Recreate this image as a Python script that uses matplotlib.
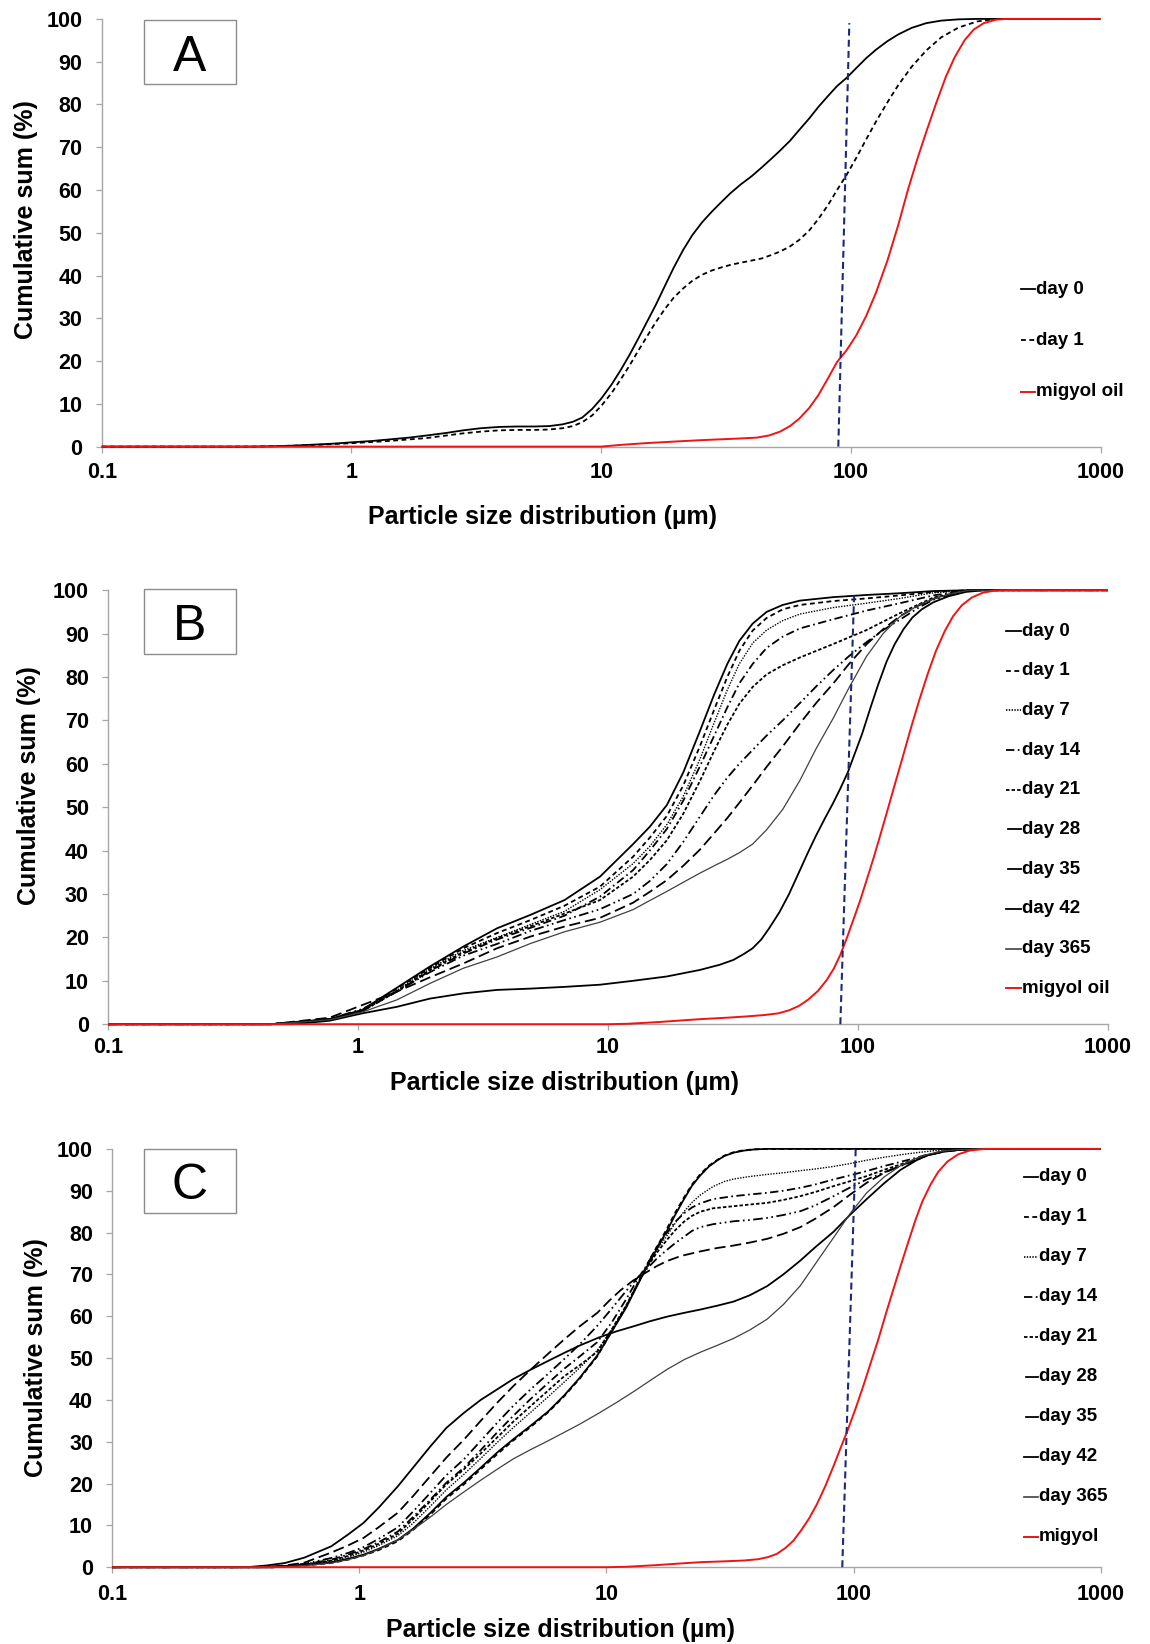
import matplotlib
matplotlib.use("Agg")
import matplotlib.pyplot as plt
from matplotlib.lines import Line2D
from matplotlib.patches import Rectangle

plt.rcParams['font.family'] = ['Liberation Sans', 'DejaVu Sans']
plt.rcParams['lines.scale_dashes'] = False

# ---------------- data ----------------
XTICKS = [0.1, 1, 10, 100, 1000]
XTICK_LABELS = ['0.1', '1', '10', '100', '1000']
YTICKS = [0, 10, 20, 30, 40, 50, 60, 70, 80, 90, 100]

# Panel A
A_DAY0_X = [0.1, 0.4, 0.5, 0.6, 0.7, 0.85, 1.0, 1.2, 1.4, 1.7, 2.0, 2.4, 2.8, 3.3, 3.9, 4.6, 5.4, 6.2, 7.0, 7.7, 8.4, 9.2, 10, 11, 12, 13, 14, 15.2, 16.5, 18, 19.5, 21.3, 23.2, 25.4, 27.8, 30.3, 33, 36.2, 40, 44, 48, 52, 57, 62, 68, 74, 81, 88, 96, 105, 115, 126, 140, 155, 175, 200, 230, 270, 320, 1000]
A_DAY0_Y = [0, 0, 0.1, 0.25, 0.45, 0.7, 1.0, 1.3, 1.65, 2.1, 2.6, 3.2, 3.8, 4.3, 4.6, 4.7, 4.7, 4.8, 5.2, 5.8, 6.8, 8.8, 11.2, 14.5, 18, 21.5, 25, 29, 33, 37.6, 41.8, 46, 49.5, 52.5, 55, 57.2, 59.3, 61.3, 63.2, 65.3, 67.3, 69.2, 71.5, 74, 76.7, 79.4, 82, 84.3, 86.2, 88.5, 90.8, 92.8, 94.8, 96.4, 97.9, 99, 99.6, 99.9, 100, 100]
A_DAY1_X = [0.1, 0.4, 0.5, 0.7, 1.0, 1.4, 2.0, 2.4, 2.8, 3.3, 3.9, 4.6, 5.4, 6.2, 7.0, 7.7, 8.4, 9.2, 10, 11, 12, 13, 14, 15.2, 16.5, 18, 19.5, 21.3, 23.2, 25.4, 27.8, 30.3, 33, 36.2, 40, 44, 48, 52, 57, 62, 68, 74, 81, 88, 96, 105, 115, 126, 140, 155, 175, 200, 230, 270, 320, 380, 1000]
A_DAY1_Y = [0, 0, 0.1, 0.35, 0.8, 1.3, 2.0, 2.6, 3.1, 3.5, 3.8, 3.9, 3.9, 4.0, 4.3, 4.8, 5.7, 7.3, 9.5, 12.5, 15.8, 19, 22.2, 25.6, 29, 32.2, 34.8, 37, 38.8, 40.2, 41.2, 41.9, 42.5, 43, 43.5, 44, 44.8, 45.6, 46.8, 48.3, 50.5, 53.2, 56.5, 60, 63.5, 67.5, 71.8, 76, 80.5, 84.6, 88.8, 92.6, 95.7, 98, 99.4, 100, 100]
A_OIL_X = [0.1, 10, 12, 15, 20, 25, 30, 36, 42, 47, 52, 57, 62, 68, 74, 81, 88, 96, 105, 115, 126, 140, 155, 170, 185, 200, 220, 240, 260, 285, 310, 340, 380, 420, 1000]
A_OIL_Y = [0, 0, 0.4, 0.8, 1.2, 1.5, 1.7, 1.9, 2.1, 2.6, 3.5, 4.8, 6.5, 9, 12, 16, 19.8, 22.5, 26, 30.5, 36, 43.5, 52, 60.5, 67.5, 73.5, 80.5, 86.5, 91, 95, 97.5, 99, 99.8, 100, 100]
A_REF_X = [89, 98.5]
A_REF_Y = [0, 99]

# Panel B
B_X = [0.1, 0.45, 0.77, 1.04, 1.43, 1.94, 2.64, 3.6, 4.9, 6.7, 9.29, 12.6, 14.7, 17.2, 20, 23.3, 26.6, 30, 33.5, 37.9, 43.1, 50, 58.6, 79.6, 108, 147, 200, 280, 1000]
B_DAY0 = [0, 0, 1.2, 3.3, 8.4, 13.3, 17.9, 22.1, 25.2, 28.6, 34, 41.5, 45.5, 50.5, 58, 67.5, 76, 83, 88.3, 92.3, 95, 96.6, 97.6, 98.4, 98.9, 99.3, 99.8, 100, 100]
B_DAY1 = [0, 0, 1, 3.2, 8.2, 13, 17.5, 21, 24, 27.3, 31.7, 38.6, 43, 48, 55, 64, 72.5, 80, 86, 90.7, 93.6, 95.6, 96.6, 97.5, 98.1, 98.8, 99.6, 100, 100]
B_DAY7 = [0, 0, 1, 3, 7.8, 12.8, 17, 20, 23, 26, 31, 37, 41, 46, 52.5, 61, 69.5, 77, 83, 87.8, 90.8, 93, 94.5, 96, 97, 98.1, 99.4, 100, 100]
B_DAY14 = [0, 0, 1, 3, 7.5, 12.3, 16.3, 19.5, 22.2, 25, 29.4, 35.5, 40, 45, 51.5, 59.4, 66.5, 73, 78.5, 83, 86.7, 89.3, 91.2, 93.3, 95.3, 97, 98.8, 100, 100]
B_DAY21 = [0, 0, 1, 3, 7.6, 12.5, 16.6, 19.8, 22.6, 25.5, 28.6, 34, 37.8, 42.4, 48.5, 56, 63, 69, 73.8, 77.7, 80.6, 82.7, 84.5, 87.6, 90.8, 94.7, 98.3, 100, 100]
B_X2 = [0.1, 0.45, 0.77, 1.04, 1.43, 1.94, 2.64, 3.6, 4.9, 6.7, 9.29, 12.6, 14.7, 17.2, 20, 23.3, 26.6, 30, 33.5, 37.9, 43.1, 50, 58.6, 68, 79.6, 92, 108, 126, 147, 175, 200, 240, 280, 1000]
B_DAY28 = [0, 0, 1.2, 3.5, 7.5, 12, 15.8, 18.5, 21.5, 24, 26.5, 30, 33, 36.9, 42, 47.8, 52.8, 56.8, 60, 63.2, 66.5, 70, 74, 77.8, 81.6, 84.8, 88, 90.8, 93.2, 96, 97.8, 99.2, 100, 100]
B_DAY35 = [0, 0, 1.5, 4.4, 7.5, 10.8, 14, 17.5, 20.2, 22.5, 24.5, 28, 30.5, 33.2, 36.5, 40.2, 44, 47.5, 51, 55, 59.3, 64, 69.3, 74, 78.5, 83, 87.5, 91, 94, 96.5, 98, 99.3, 100, 100]
B_DAY365 = [0, 0, 1, 2.8, 5.6, 9.4, 12.9, 15.5, 18.6, 21.3, 23.5, 26.4, 28.5, 30.6, 32.7, 34.8, 36.5, 38, 39.5, 41.5, 44.8, 49.5, 56.2, 63.5, 70.5, 77.5, 84.7, 90, 93.9, 96.6, 98, 99.3, 100, 100]
B_DAY42_X = [0.1, 0.55, 0.77, 1.04, 1.43, 1.94, 2.64, 3.6, 4.9, 6.7, 9.29, 12.6, 17.2, 23.3, 28, 31.7, 35, 37.9, 41, 44, 48.5, 53, 58.6, 63, 68, 74, 79.6, 85, 91, 97, 104, 112, 120, 130, 140, 152, 165, 180, 200, 230, 270, 320, 1000]
B_DAY42_Y = [0, 0, 0.8, 2.5, 4, 5.9, 7.1, 7.9, 8.2, 8.6, 9.1, 10, 11, 12.5, 13.7, 14.8, 16.2, 17.5, 19.5, 22, 25.8, 30, 35.5, 39.5, 43.5, 47.6, 51, 54.3, 58, 62.3, 67, 72.8, 78, 83.5, 87.5, 91, 93.7, 95.6, 97.2, 98.6, 99.6, 100, 100]
B_OIL_X = [0.1, 10, 12, 16, 20, 24, 30, 36, 42, 48, 53, 58, 63, 69, 75, 80, 85, 90, 96, 102, 108, 115, 122, 130, 140, 150, 162, 175, 190, 205, 222, 240, 260, 285, 315, 350, 400, 1000]
B_OIL_Y = [0, 0, 0.1, 0.5, 0.9, 1.2, 1.5, 1.8, 2.1, 2.5, 3.2, 4.2, 5.6, 7.6, 10.2, 12.8, 16, 19.7, 24.2, 28.5, 33, 38, 43, 48.5, 55, 61, 67.8, 74.3, 80.7, 86, 90.5, 94, 96.5, 98.3, 99.4, 99.9, 100, 100]
B_REF_X = [85, 96.5]
B_REF_Y = [0, 99]

# Panel C
C_X0 = [0.1, 0.45, 0.6, 0.77, 0.9, 1.04, 1.2, 1.43, 1.65, 1.94, 2.25, 2.65, 3.1, 3.61, 4.2, 4.93, 5.8, 6.73, 7.8, 9.18, 10.5, 12, 13.5, 15.1, 16.5, 17.6, 19, 20.6, 22.2, 24, 26, 28, 30, 32.7, 36, 40, 45, 1000]
C_DAY0 = [0, 0, 0.5, 1.2, 2, 3, 4.4, 6.5, 9.2, 13, 16.8, 20.2, 23.8, 27.4, 30.6, 33.8, 37.2, 41, 45.3, 50.6, 56.3, 62, 68, 73.5, 77.5, 80.5, 84.3, 88, 91.2, 93.7, 95.8, 97.2, 98.3, 99.1, 99.6, 99.9, 100, 100]
C_DAY1 = [0, 0, 0.4, 1.0, 1.8, 2.8, 4.1, 6.2, 8.9, 12.6, 16.4, 19.8, 23.4, 27, 30.3, 33.5, 37, 40.8, 45.1, 50.4, 56.4, 62.2, 68.3, 74, 78, 81, 84.8, 88.4, 91.5, 94, 96, 97.3, 98.4, 99.2, 99.7, 99.9, 100, 100]
C_X7 = [0.1, 0.45, 0.6, 0.77, 0.9, 1.04, 1.2, 1.43, 1.65, 1.94, 2.25, 2.65, 3.1, 3.61, 4.2, 4.93, 5.8, 6.73, 7.8, 9.18, 10.5, 12, 13.5, 14.5, 16, 17.6, 19, 20.6, 22.2, 24, 27, 30, 32.7, 38, 44.7, 52, 60.9, 70, 83, 97, 113, 133, 155, 180, 200, 230, 260, 1000]
C_DAY7 = [0, 0, 0.5, 1.4, 2.4, 3.6, 5.2, 7.5, 10.5, 14.6, 18.5, 22.2, 26, 29.8, 33.4, 37, 40.7, 44.2, 47.7, 51.8, 56.8, 62.5, 68, 71.5, 75.8, 79.3, 82.3, 85, 87.2, 89, 91, 92.2, 92.8, 93.4, 93.9, 94.3, 94.8, 95.2, 95.8, 96.5, 97.3, 98, 98.6, 99.1, 99.4, 99.8, 100, 100]
C_XD = [0.1, 0.45, 0.6, 0.77, 0.9, 1.04, 1.2, 1.43, 1.65, 1.94, 2.25, 2.65, 3.1, 3.61, 4.2, 4.93, 5.8, 6.73, 7.8, 9.18, 10.5, 12, 13.5, 14.5, 16, 17.6, 19, 20.6, 22.2, 24, 27, 32.7, 38, 44.7, 52, 60.9, 70, 83, 97, 113, 133, 155, 180, 200, 230, 260, 320, 1000]
C_DAY14 = [0, 0, 0.7, 1.8, 3, 4.3, 6, 8.5, 12, 16.2, 20.2, 23.8, 28, 32.2, 36.2, 40.2, 44, 47.4, 50.4, 53.8, 58.5, 64, 69.3, 72, 76.5, 80, 82.6, 84.6, 86, 87, 88, 88.7, 89.1, 89.5, 90, 90.7, 91.5, 92.7, 93.7, 94.7, 95.9, 96.9, 97.9, 98.7, 99.4, 99.7, 100, 100]
C_DAY21 = [0, 0, 0.6, 1.6, 2.7, 4, 5.6, 8, 11.5, 15.8, 19.8, 23.4, 27.2, 31, 34.8, 38.5, 42.2, 45.6, 48.3, 51.5, 56.8, 62.5, 68.3, 71.5, 75.2, 78.3, 80.6, 82.6, 84, 85, 85.8, 86.3, 86.7, 87.1, 87.8, 88.7, 89.7, 91.1, 92.3, 93.5, 95, 96.3, 97.6, 98.5, 99.3, 99.7, 100, 100]
C_DAY28 = [0, 0, 0.8, 2.2, 3.4, 4.8, 6.8, 9.5, 13.3, 17.8, 22, 25.8, 30.2, 34.5, 38.6, 42.5, 46.2, 49.7, 53.3, 57.7, 61.8, 66, 69.5, 71.2, 73.8, 75.9, 77.5, 79, 80.4, 81.3, 82, 82.7, 83, 83.5, 84.2, 85.1, 86.5, 88.7, 90.8, 92.7, 94.4, 95.9, 97.4, 98.5, 99.3, 99.7, 100, 100]
C_X35 = [0.1, 0.4, 0.5, 0.6, 0.77, 0.9, 1.04, 1.2, 1.43, 1.65, 1.94, 2.25, 2.65, 3.1, 3.61, 4.2, 4.93, 5.8, 6.73, 7.8, 9.18, 10.3, 11.4, 12.8, 14.5, 16, 17.6, 20, 24, 28, 32.7, 38, 44.7, 52, 60.9, 70, 83, 97, 113, 133, 155, 180, 200, 230, 260, 320, 1000]
C_DAY35 = [0, 0, 0.4, 1.1, 3.5, 5.2, 7, 9.6, 13, 17, 21.8, 26.2, 30.5, 35, 39.3, 43.3, 47.2, 51, 54.4, 57.6, 60.8, 63.8, 66.2, 68.5, 70.5, 72, 73.2, 74.4, 75.5, 76.3, 76.9, 77.6, 78.5, 79.7, 81.3, 83.3, 86.1, 89.1, 91.9, 94.3, 96, 97.5, 98.5, 99.3, 99.7, 100, 100]
C_X42 = [0.1, 0.35, 0.42, 0.5, 0.6, 0.77, 0.9, 1.04, 1.2, 1.43, 1.65, 1.94, 2.25, 2.65, 3.1, 3.61, 4.2, 4.93, 5.8, 6.73, 7.8, 9.3, 11, 12.9, 15, 17.6, 20.6, 24, 28, 32.7, 38, 44.7, 52, 60.9, 70, 83, 97, 113, 133, 155, 180, 200, 230, 260, 320, 1000]
C_DAY42 = [0, 0, 0.4, 1, 2.3, 5, 7.8, 10.6, 14.3, 19.3, 23.8, 28.9, 33.3, 36.9, 40, 42.5, 45, 47.2, 49.3, 51.2, 53, 54.9, 56.4, 57.6, 58.8, 59.9, 60.8, 61.6, 62.5, 63.5, 65, 67.2, 70, 73.3, 76.5, 80.2, 84.3, 88, 91.8, 95, 97.3, 98.5, 99.4, 99.8, 100, 100]
C_X365 = [0.1, 0.45, 0.6, 0.77, 0.9, 1.04, 1.2, 1.43, 1.65, 1.94, 2.25, 2.65, 3.1, 3.61, 4.2, 4.93, 5.8, 6.73, 7.8, 9.3, 11, 12.9, 15, 17.6, 20.6, 24, 28, 32.7, 38, 44.7, 52, 60.9, 70, 83, 97, 113, 133, 155, 180, 200, 230, 260, 320, 1000]
C_DAY365 = [0, 0, 0.4, 1, 1.8, 2.8, 4.3, 6.5, 9, 12, 15, 18, 20.8, 23.4, 25.9, 28.1, 30.2, 32.2, 34.2, 36.8, 39.4, 42, 44.6, 47.3, 49.6, 51.4, 53, 54.7, 56.7, 59.3, 62.8, 67.3, 72.5, 78.8, 84.6, 89.5, 93.3, 96, 97.8, 98.7, 99.5, 99.8, 100, 100]
C_OIL_X = [0.1, 10, 12, 16, 20, 24, 30, 36, 41, 45, 49, 53, 57, 61, 66, 71, 77, 83, 89, 95, 102, 110, 118, 126, 135, 145, 155, 166, 178, 190, 205, 220, 240, 265, 295, 340, 1000]
C_OIL_Y = [0, 0, 0.1, 0.5, 0.9, 1.2, 1.4, 1.6, 1.9, 2.4, 3.2, 4.6, 6.3, 8.6, 11.6, 15, 19.5, 24.2, 28.8, 33, 38, 43.7, 49.3, 54.5, 60.5, 66.5, 72, 77.5, 83, 87.5, 91.5, 94.5, 97, 98.7, 99.6, 100, 100]
C_REF_X = [90, 102]
C_REF_Y = [0, 100]

A_LABELS = ['day 0', 'day 1', 'migyol oil']
B_LABELS = ['day 0', 'day 1', 'day 7', 'day 14', 'day 21', 'day 28', 'day 35', 'day 42', 'day 365', 'migyol oil']
C_LABELS = ['day 0', 'day 1', 'day 7', 'day 14', 'day 21', 'day 28', 'day 35', 'day 42', 'day 365', 'migyol']

# ---------------- styles ----------------
RED = '#F01414'
NAVY = '#1B2A78'
GRAY_AX = '#A6A6A6'
STY = {
    'day 0': dict(color='black', lw=1.3, ls='-'),
    'day 1': dict(color='black', lw=1.3, ls=(0, (3.5, 2.5))),
    'day 7': dict(color='black', lw=1.0, ls=(0, (1, 1))),
    'day 14': dict(color='black', lw=1.3, ls=(0, (6, 2.5, 1.2, 2.5))),
    'day 21': dict(color='black', lw=1.3, ls=(0, (2.5, 1.5))),
    'day 28': dict(color='black', lw=1.3, ls=(0, (7, 2.5, 1.2, 2.5, 1.2, 2.5))),
    'day 35': dict(color='black', lw=1.3, ls=(0, (8, 3.5))),
    'day 42': dict(color='black', lw=1.3, ls='-'),
    'day 365': dict(color='#404040', lw=0.9, ls='-'),
    'migyol oil': dict(color=RED, lw=1.4, ls='-'),
    'migyol': dict(color=RED, lw=1.4, ls='-'),
}
# legend samples are short; long-dash styles show as a single solid stroke there
LEGEND_LS = {'day 28': '-', 'day 35': '-'}

W, H = 1150, 1644
fig = plt.figure(figsize=(W / 100, H / 100), dpi=100)


def fx(x):
    return x / W


def fy(y):
    return 1 - y / H


def make_axes(left, right, top, bottom, xpad):
    ax = fig.add_axes([fx(left), fy(bottom), fx(right) - fx(left), fy(top) - fy(bottom)])
    ax.set_xscale('log')
    ax.set_xlim(0.1, 1000)
    ax.set_ylim(0, 100)
    ax.set_xticks(XTICKS)
    ax.set_xticklabels(XTICK_LABELS)
    ax.set_yticks(YTICKS)
    ax.minorticks_off()
    for s in ['top', 'right']:
        ax.spines[s].set_visible(False)
    for s in ['left', 'bottom']:
        ax.spines[s].set_color(GRAY_AX)
        ax.spines[s].set_linewidth(1.0)
    ax.tick_params(axis='both', direction='out', length=4.3, width=0.9, color=GRAY_AX,
                   labelsize=15.5, labelcolor='black')
    ax.tick_params(axis='x', pad=xpad)
    ax.tick_params(axis='y', pad=9.5)
    for lab in ax.get_xticklabels() + ax.get_yticklabels():
        lab.set_fontweight('bold')
    return ax


def plot_series(ax, x, y, key, z=3):
    s = STY[key]
    ax.plot(x, y, color=s['color'], lw=s['lw'], linestyle=s['ls'], clip_on=False, zorder=z,
            solid_capstyle='butt', dash_capstyle='butt', solid_joinstyle='round')


def ref_line(ax, x, y):
    ax.plot(x, y, color=NAVY, lw=1.5, linestyle=(0, (5, 3)), zorder=5, clip_on=False)


def legend(labels, x0, x1, xt, y0, dy, fs=13.5):
    for i, lab in enumerate(labels):
        yy = y0 + i * dy
        s = STY[lab]
        ls = LEGEND_LS.get(lab, s['ls'])
        xs = x0 + 2 if lab in LEGEND_LS else x0
        fig.add_artist(Line2D([fx(xs), fx(x1)], [fy(yy), fy(yy)], transform=fig.transFigure,
                              color=s['color'], lw=s['lw'] if s['lw'] > 1 else 1.2,
                              linestyle=ls))
        fig.text(fx(xt), fy(yy), lab, fontsize=fs, fontweight='bold', ha='left', va='center')


def label_box(x0, y0, x1, y1, letter, baseline):
    fig.add_artist(Rectangle((fx(x0), fy(y1)), fx(x1) - fx(x0), fy(y0) - fy(y1),
                             transform=fig.transFigure, facecolor='white', edgecolor='#8C8C8C', lw=1.0,
                             zorder=6))
    fig.text(fx((x0 + x1) / 2), fy(baseline), letter, fontsize=36, ha='center', va='baseline', zorder=7)


def titles(xc, yc, ytx, ytc):
    fig.text(fx(xc), fy(yc), 'Particle size distribution (µm)', fontsize=18, fontweight='bold',
             ha='center', va='center')
    fig.text(fx(ytx), fy(ytc), 'Cumulative sum (%)', fontsize=18, fontweight='bold',
             ha='center', va='center', rotation=90)


# ---------------- Panel A ----------------
axA = make_axes(101.7, 1100.7, 18.9, 446.6, 6.7)
plot_series(axA, A_DAY0_X, A_DAY0_Y, 'day 0')
plot_series(axA, A_DAY1_X, A_DAY1_Y, 'day 1')
plot_series(axA, A_OIL_X, A_OIL_Y, 'migyol oil', z=4)
ref_line(axA, A_REF_X, A_REF_Y)
legend(A_LABELS, 1021, 1035, 1036, 289, 51.5)
label_box(143.7, 20.3, 236.3, 84.3, 'A', 71)
titles(543, 517, 26, 220)

# ---------------- Panel B ----------------
axB = make_axes(108, 1108, 590.2, 1024.2, 5.2)
plot_series(axB, B_X, B_DAY0, 'day 0')
plot_series(axB, B_X, B_DAY1, 'day 1')
plot_series(axB, B_X, B_DAY7, 'day 7')
plot_series(axB, B_X, B_DAY14, 'day 14')
plot_series(axB, B_X, B_DAY21, 'day 21')
plot_series(axB, B_X2, B_DAY28, 'day 28')
plot_series(axB, B_X2, B_DAY35, 'day 35')
plot_series(axB, B_DAY42_X, B_DAY42_Y, 'day 42')
plot_series(axB, B_X2, B_DAY365, 'day 365')
plot_series(axB, B_OIL_X, B_OIL_Y, 'migyol oil', z=4)
ref_line(axB, B_REF_X, B_REF_Y)
legend(B_LABELS, 1006, 1021, 1022, 631, 39.7)
label_box(143.5, 589.3, 236, 654, 'B', 639.5)
titles(565, 1083, 29.5, 786)

# ---------------- Panel C ----------------
axC = make_axes(112.2, 1100.7, 1148.9, 1567.2, 8.0)
plot_series(axC, C_X0, C_DAY0, 'day 0')
plot_series(axC, C_X0, C_DAY1, 'day 1')
plot_series(axC, C_X7, C_DAY7, 'day 7')
plot_series(axC, C_XD, C_DAY14, 'day 14')
plot_series(axC, C_XD, C_DAY21, 'day 21')
plot_series(axC, C_XD, C_DAY28, 'day 28')
plot_series(axC, C_X35, C_DAY35, 'day 35')
plot_series(axC, C_X42, C_DAY42, 'day 42')
plot_series(axC, C_X365, C_DAY365, 'day 365')
plot_series(axC, C_OIL_X, C_OIL_Y, 'migyol', z=4)
ref_line(axC, C_REF_X, C_REF_Y)
legend(C_LABELS, 1024, 1038, 1039, 1176.5, 40)
label_box(143.5, 1149, 236, 1213.3, 'C', 1199)
titles(561, 1630, 36.5, 1358)

fig.savefig('out.png', dpi=100)
